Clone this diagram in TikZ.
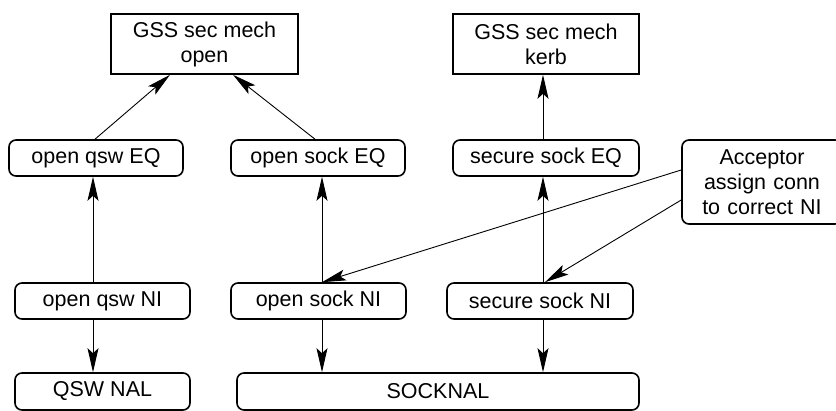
\documentclass[tikz,border=0pt]{standalone}
\usepackage{fontspec}
\setmainfont{Liberation Sans}
\usetikzlibrary{arrows.meta}
\begin{document}
\begin{tikzpicture}[x=1pt,y=-1pt,
  box/.style={draw,line width=1.6pt,align=center,inner sep=0pt,font=\fontsize{21.5}{25}\selectfont},
  sharpbox/.style={box},
  rbox/.style={box,rounded corners=7pt},
  arr/.style={line width=0.9pt,-{Stealth[length=24pt,width=11pt,inset=5pt]}}]
\useasboundingbox (0,0) rectangle (836,411);
\node[sharpbox,minimum width=187pt,minimum height=60pt] (gssopen) at (204.5,44) {GSS sec mech\\open};
\node[sharpbox,minimum width=186pt,minimum height=60pt] (gsskerb) at (546,44) {GSS sec mech\\kerb};
\node[rbox,minimum width=174pt,minimum height=36pt] (qsweq) at (96,158) {open qsw EQ};
\node[rbox,minimum width=174pt,minimum height=36pt] (sockeq) at (318,158) {open sock EQ};
\node[rbox,minimum width=186pt,minimum height=36pt] (seceq) at (546,158) {secure sock EQ};
\node[rbox,minimum width=160pt,minimum height=84pt,text width=150pt] (acc) at (762,182) {Acceptor\\assign conn\\to correct NI};
\node[rbox,minimum width=175pt,minimum height=36pt] (qswni) at (102.5,301) {open qsw NI};
\node[rbox,minimum width=175pt,minimum height=36pt] (sockni) at (318.5,301) {open sock NI};
\node[rbox,minimum width=186pt,minimum height=36pt] (secni) at (540,301) {secure sock NI};
\node[rbox,minimum width=175pt,minimum height=37pt] (qswnal) at (102.5,391.5) {QSW NAL};
\node[rbox,minimum width=402pt,minimum height=37pt] (socknal) at (438,391.5) {SOCKNAL};
% EQ -> GSS
\draw[arr] ([xshift=-1pt]qsweq.north) -- ([xshift=-34.5pt]gssopen.south);
\draw[arr] ([xshift=-3pt]sockeq.north) -- ([xshift=28.5pt]gssopen.south);
\draw[arr] ([xshift=-3pt]seceq.north) -- ([xshift=-3pt]gsskerb.south);
% NI -> EQ
\draw[arr] ([xshift=-9.5pt]qswni.north) -- ([xshift=-3pt]qsweq.south);
\draw[arr] ([xshift=3.5pt]sockni.north) -- ([xshift=4pt]sockeq.south);
\draw[arr] ([xshift=3pt]secni.north) -- ([xshift=-3pt]seceq.south);
% NI -> NAL
\draw[arr] ([xshift=-9.5pt]qswni.south) -- ([xshift=-9.5pt]qswnal.north);
\draw[arr] ([xshift=3.5pt]sockni.south) -- ([xshift=-116pt]socknal.north);
\draw[arr] ([xshift=3pt]secni.south) -- ([xshift=105pt]socknal.north);
% Acceptor
\draw[arr] ([yshift=12pt]acc.west) -- ([xshift=3.5pt]sockni.north);
\draw[arr] ([yshift=-18pt]acc.west) -- ([xshift=5pt]secni.north);
\end{tikzpicture}
\end{document}
